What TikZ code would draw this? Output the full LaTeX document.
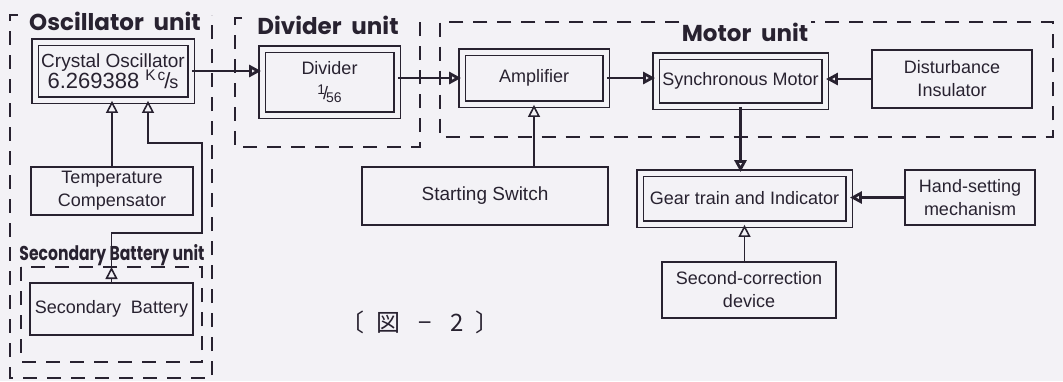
\documentclass[tikz,border=0pt]{standalone}
\usepackage{fontspec}
\setmainfont{Liberation Sans}
\newfontfamily\unitfont{Poppins}
\newfontfamily\cjk{Noto Sans CJK JP}
\usepackage{tikz}
\usetikzlibrary{arrows.meta}
\definecolor{ink}{RGB}{40,34,48}
\definecolor{paper}{RGB}{243,242,246}

\begin{document}
\begin{tikzpicture}[x=0.5pt, y=-0.5pt, >={Triangle[open, length=6pt, width=6pt]},
  block/.style={draw=ink, line width=1.1pt, align=center, inner sep=0pt, text=ink,
    font=\fontsize{9}{11.5}\selectfont},
  dblock/.style={block, double=paper, double distance=2.5pt, line width=0.9pt},
  unit/.style={draw=ink, line width=0.9pt, dash pattern=on 7pt off 5pt},
  unitlabel/.style={text=ink, inner sep=1pt, font=\unitfont\bfseries\fontsize{11.5}{14}\selectfont},
  flow/.style={->, draw=ink, line width=1.4pt},
  feed/.style={->, draw=ink, line width=0.8pt}]
  \fill[paper] (0,0) rectangle (1063,381);
  \useasboundingbox (0,0) rectangle (1063,381);

  % blocks
  \node[dblock, minimum width=78pt, minimum height=29pt] (osc) at (113,71)
    {{\fontsize{9.5}{11}\selectfont Crystal Oscillator}\\[-1pt]
     {\fontsize{11}{12}\selectfont 6.269388 \textsuperscript{K}\kern.5pt\textsuperscript{c}\kern-1pt/\kern-.5pt{\small s}}};
  \node[block, minimum width=81pt, minimum height=24pt] (temp) at (112,191) {Temperature\\Compensator};
  \node[block, minimum width=81.5pt, minimum height=26pt] (bat) at (111.5,309) {Secondary\ \ Battery};
  \node[dblock, minimum width=67.5pt, minimum height=33pt] (div) at (329.5,82)
    {Divider\\[1pt]{\raisebox{.5ex}{\scriptsize 1}\kern-1pt/\kern-1pt\raisebox{-.3ex}{\scriptsize 56}}};
  \node[dblock, minimum width=72pt, minimum height=26pt] (amp) at (534,78) {Amplifier};
  \node[dblock, minimum width=84.5pt, minimum height=25pt] (sync) at (740.5,81) {Synchronous Motor};
  \node[block, minimum width=80pt, minimum height=29pt] (dist) at (952,79) {Disturbance\\Insulator};
  \node[block, minimum width=123pt, minimum height=29pt] (start) at (485,196)
    {\fontsize{9.5}{11}\selectfont Starting Switch};
  \node[dblock, minimum width=104.5pt, minimum height=25.5pt] (gear) at (744.5,198.5) {Gear train and Indicator};
  \node[block, minimum width=65pt, minimum height=27.5pt] (hand) at (970,197.5) {Hand-setting\\mechanism};
  \node[block, minimum width=87pt, minimum height=28pt] (corr) at (749,290) {Second-correction\\device};

  % units
  \node[unitlabel] (osclab) at (115,21) {Oscillator\ \ unit};
  \node[unitlabel] (divlab) at (328,25) {Divider\ \ unit};
  \node[unitlabel] (motlab) at (745,32) {Motor\ \ unit};
  \node[unitlabel, font=\unitfont\bfseries\fontsize{10}{12}\selectfont] (batlab) at (112,255)
    {\scalebox{0.78}[1]{Secondary Battery unit}};
  \draw[unit] (18,15) -- (10,15) -- (10,378) -- (212,378) -- (212,15);
  \draw[unit] (242,18) -- (235,18) -- (235,147) -- (420,147) -- (420,20) -- (413,20);
  \draw[unit] (motlab.west |- 0,22) -- (440,22) -- (440,137) -- (1053,137) -- (1053,22) -- (motlab.east |- 0,22);
  \draw[unit] (21,267) rectangle (202,362);

  % signal path
  \draw[flow] (osc.east) -- (osc.east -| div.west);
  \draw[flow] (div.east |- amp) -- (amp.west);
  \draw[flow] (amp.east) -- (amp.east -| sync.west);
  \draw[flow] (dist.west) -- (dist.west -| sync.east);
  \draw[flow] (sync.south) -- (sync.south |- gear.north);
  \draw[flow] (hand.west) -- (hand.west -| gear.east);
  \draw[feed] (corr.north -| gear.south) -- (gear.south);
  \draw[feed] (start.north -| amp.south) -- (amp.south);
  \draw[feed] (temp.north) -- (temp.north |- osc.south);
  \coordinate (bt) at (111.5,267);
  \draw[feed] (bat.north) -- (bt);
  \draw[feed] (bt) -- (111.5,233) -| (202,143) -| ([xshift=17.5pt]osc.south);

  \node[text=ink, font=\cjk\fontsize{12}{13}\selectfont] (fig) at (420,322)
    {〔\hspace{6pt}図\hspace{9pt}−\hspace{9pt}2\hspace{6pt}〕};
\end{tikzpicture}
\end{document}
